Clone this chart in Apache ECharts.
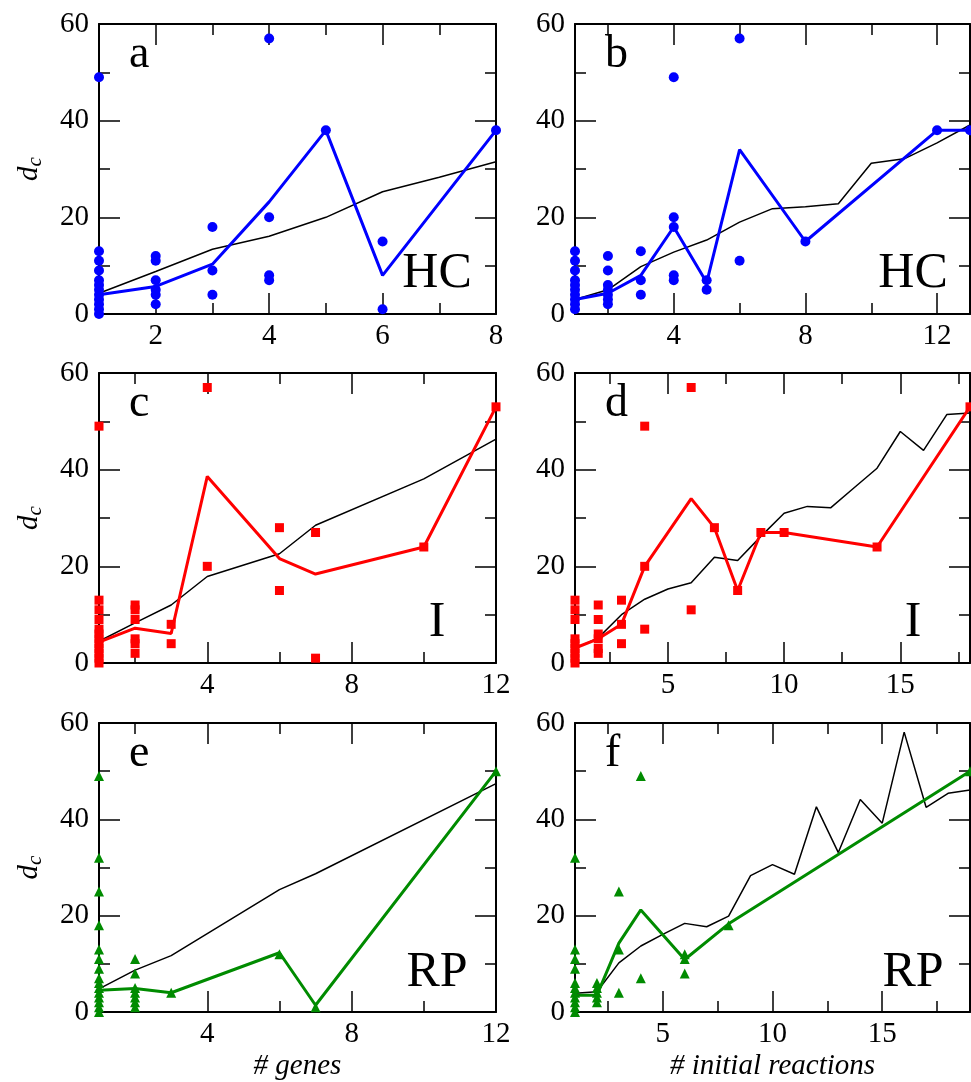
<!DOCTYPE html>
<html>
<head>
<meta charset="utf-8">
<script src="https://cdn.jsdelivr.net/npm/echarts@6/dist/echarts.min.js"></script>
<style>
  html, body { margin: 0; padding: 0; background: #fff; }
  #chart { width: 971px; height: 1082px; }
</style>
</head>
<body>
<div id="chart"></div>
<script>
// panel a : HC vs # genes
const aPtsX = [1, 2, 3, 4, 5, 6, 8];
const aPtsY = [[0, 1, 2, 3, 4, 5, 6, 7, 9, 11, 13, 49], [2, 4, 5, 7, 11, 12], [4, 9, 18], [7, 8, 20, 57], [38], [1, 15], [38]];
const aMeanX = [1, 2, 3, 4, 5, 6, 8];
const aMeanY = [4, 5.7, 10.3, 23.2, 38, 8, 38];
const aRefX = [1, 2, 3, 4, 5, 6, 7, 8];
const aRefY = [4.3, 8.8, 13.4, 16.1, 20, 25.3, 28.3, 31.5];

// panel b : HC vs # initial reactions
const bPtsX = [1, 2, 3, 4, 5, 6, 8, 12, 13];
const bPtsY = [[1, 2, 3, 4, 5, 6, 7, 9, 11, 13], [2, 3, 4, 5, 6, 9, 12], [4, 7, 13], [7, 8, 18, 20, 49], [5, 7], [11, 57], [15], [38], [38]];
const bMeanX = [1, 2, 3, 4, 5, 6, 8, 12, 13];
const bMeanY = [3, 4.3, 8, 18, 6.5, 34, 15, 38, 38];
const bRefX = [1, 2, 3, 4, 5, 6, 7, 8, 9, 10, 11, 12, 13];
const bRefY = [3, 5, 9.8, 12.8, 15.3, 19, 21.8, 22.2, 22.8, 31.2, 32.1, 35.4, 39.1];

// panel c : I vs # genes
const cPtsX = [1, 2, 3, 4, 6, 7, 10, 12];
const cPtsY = [[0, 1, 2, 3, 4, 5, 6, 7, 9, 11, 13, 49], [2, 4, 5, 9, 11, 12], [4, 8], [20, 57], [15, 28], [1, 27], [24], [53]];
const cMeanX = [1, 2, 3, 4, 6, 7, 10, 12];
const cMeanY = [4.3, 7.2, 6.1, 38.6, 21.6, 18.4, 24, 53];
const cRefX = [1, 2, 3, 4, 6, 7, 10, 12];
const cRefY = [4.5, 8.3, 12, 17.9, 22.6, 28.5, 38.1, 46.3];

// panel d : I vs # initial reactions
const dPtsX = [1, 2, 3, 4, 6, 7, 8, 9, 10, 14, 18];
const dPtsY = [[0, 1, 2, 3, 4, 5, 9, 11, 13], [2, 3, 5, 6, 9, 12], [4, 8, 13], [7, 20, 49], [11, 57], [28], [15], [27], [27], [24], [53]];
const dMeanX = [1, 2, 3, 4, 6, 7, 8, 9, 10, 14, 18];
const dMeanY = [3.1, 5, 8, 20, 34, 28, 15, 27, 27, 24, 53];
const dRefX = [1, 2, 3, 4, 5, 6, 7, 8, 9, 10, 11, 12, 13, 14, 15, 16, 17, 18];
const dRefY = [3, 5.2, 10, 13.2, 15.3, 16.6, 21.9, 21.2, 26.2, 31, 32.4, 32.1, 36.2, 40.3, 47.9, 44, 51.4, 51.7];

// panel e : RP vs # genes
const ePtsX = [1, 2, 3, 6, 7, 12];
const ePtsY = [[0, 1, 2, 3, 4, 5, 6, 7, 9, 11, 13, 18, 25, 32, 49], [1, 2, 3, 4, 5, 8, 11], [4], [12], [1], [50]];
const eMeanX = [1, 2, 3, 6, 7, 12];
const eMeanY = [4.5, 4.9, 4, 12.3, 1.4, 50];
const eRefX = [1, 2, 3, 6, 7, 12];
const eRefY = [4.8, 8.7, 11.7, 25.4, 28.7, 47.4];

// panel f : RP vs # initial reactions
const fPtsX = [1, 2, 3, 4, 6, 8, 19];
const fPtsY = [[0, 1, 2, 3, 4, 5, 6, 9, 11, 13, 32], [2, 3, 4, 5, 6], [4, 13, 25], [7, 49], [8, 11, 12], [18], [50]];
const fMeanX = [1, 2, 3, 4, 6, 8, 19];
const fMeanY = [3.5, 3.5, 14.3, 21.2, 10.9, 18.3, 50];
const fRefX = [1, 2, 3, 4, 5, 6, 7, 8, 9, 10, 11, 12, 13, 14, 15, 16, 17, 18, 19];
const fRefY = [3.9, 4.2, 10.2, 13.7, 16.1, 18.4, 17.7, 19.9, 28.3, 30.6, 28.6, 42.6, 33.1, 44.1, 39.2, 58.1, 42.5, 45.4, 46.1];

// tick values
const genesMajor = [4, 8, 12];
const genesMinor = [2, 6, 10];
const reacMajor = [5, 10, 15];
const reacMinor = [2.5, 7.5, 12.5, 17.5];

const SERIF = '"Liberation Serif", "Times New Roman", serif';
const BLUE = '#0000ff', RED = '#ff0000', GREEN = '#008b00';

const panels = [
  { letter: 'a', tag: 'HC', color: BLUE, symbol: 'circle', size: 10, ptsX: aPtsX, ptsY: aPtsY, meanX: aMeanX, meanY: aMeanY, refX: aRefX, refY: aRefY,
    xMin: 1, xMax: 8, major: [2, 4, 6, 8], minor: [3, 5, 7], left: 99, top: 24, width: 397, yName: true },
  { letter: 'b', tag: 'HC', color: BLUE, symbol: 'circle', size: 10, ptsX: bPtsX, ptsY: bPtsY, meanX: bMeanX, meanY: bMeanY, refX: bRefX, refY: bRefY,
    xMin: 1, xMax: 13, major: genesMajor, minor: genesMinor, left: 575, top: 24, width: 395 },
  { letter: 'c', tag: 'I', color: RED, symbol: 'rect', size: 9, ptsX: cPtsX, ptsY: cPtsY, meanX: cMeanX, meanY: cMeanY, refX: cRefX, refY: cRefY,
    xMin: 1, xMax: 12, major: genesMajor, minor: genesMinor, left: 99, top: 373, width: 397, yName: true },
  { letter: 'd', tag: 'I', color: RED, symbol: 'rect', size: 9, ptsX: dPtsX, ptsY: dPtsY, meanX: dMeanX, meanY: dMeanY, refX: dRefX, refY: dRefY,
    xMin: 1, xMax: 18, major: reacMajor, minor: reacMinor, left: 575, top: 373, width: 395 },
  { letter: 'e', tag: 'RP', color: GREEN, symbol: 'triangle', size: 10, ptsX: ePtsX, ptsY: ePtsY, meanX: eMeanX, meanY: eMeanY, refX: eRefX, refY: eRefY,
    xMin: 1, xMax: 12, major: genesMajor, minor: genesMinor, left: 99, top: 723, width: 397, yName: true, xName: '# genes' },
  { letter: 'f', tag: 'RP', color: GREEN, symbol: 'triangle', size: 10, ptsX: fPtsX, ptsY: fPtsY, meanX: fMeanX, meanY: fMeanY, refX: fRefX, refY: fRefY,
    xMin: 1, xMax: 19, major: reacMajor, minor: reacMinor, left: 575, top: 723, width: 395, xName: '# initial reactions' }
];

const H = 290;
const tickStyle = { color: '#000', width: 1.5 };
const lineStyle = { color: '#000', width: 2 };
const labelFont = { fontFamily: SERIF, fontSize: 29, color: '#000' };

const option = { animation: false, backgroundColor: '#fff', grid: [], xAxis: [], yAxis: [], series: [], graphic: [] };

panels.forEach((p, i) => {
  option.grid.push({ left: p.left, top: p.top, width: p.width, height: H, containLabel: false });

  const xBase = { gridIndex: i, type: 'value', min: p.xMin, max: p.xMax, splitLine: { show: false } };
  ['bottom', 'top'].forEach(pos => {
    const main = Object.assign({}, xBase, {
      position: pos,
      axisLine: { show: true, onZero: false, lineStyle: lineStyle },
      axisTick: { show: true, inside: true, length: 21, customValues: p.major, lineStyle: tickStyle },
      axisLabel: pos === 'bottom' ? Object.assign({ customValues: p.major, margin: 8 }, labelFont) : { show: false }
    });
    if (pos === 'bottom' && p.xName) {
      Object.assign(main, {
        name: p.xName, nameLocation: 'middle', nameGap: 40,
        nameTextStyle: { fontFamily: SERIF, fontSize: 29, fontStyle: 'italic', color: '#000' }
      });
    }
    option.xAxis.push(main);
    option.xAxis.push(Object.assign({}, xBase, {
      position: pos,
      axisLine: { show: false, onZero: false },
      axisTick: { show: true, inside: true, length: 11, customValues: p.minor, lineStyle: tickStyle },
      axisLabel: { show: false }
    }));
  });

  ['left', 'right'].forEach(pos => {
    const y = {
      gridIndex: i, type: 'value', position: pos, min: 0, max: 60, interval: 20,
      splitLine: { show: false },
      axisLine: { show: true, onZero: false, lineStyle: lineStyle },
      axisTick: { show: true, inside: true, length: 21, lineStyle: tickStyle },
      minorTick: { show: true, splitNumber: 2, length: 11, lineStyle: tickStyle },
      axisLabel: pos === 'left' ? Object.assign({ margin: 10 }, labelFont) : { show: false }
    };
    if (pos === 'left' && p.yName) {
      Object.assign(y, {
        name: '{d|d}{c|c}', nameLocation: 'middle', nameGap: 53, nameRotate: 90,
        nameTextStyle: {
          rich: {
            d: { fontFamily: SERIF, fontSize: 29, fontStyle: 'italic', color: '#000', lineHeight: 34 },
            c: { fontFamily: SERIF, fontSize: 21, fontStyle: 'italic', color: '#000', verticalAlign: 'bottom', lineHeight: 34 }
          }
        }
      });
    }
    option.yAxis.push(y);
  });

  const xi = i * 4, yi = i * 2;

  option.series.push({
    type: 'line', xAxisIndex: xi, yAxisIndex: yi, clip: false, silent: true,
    showSymbol: false, lineStyle: { color: '#000', width: 1.5 }, z: 2,
    data: p.refX.map((x, k) => [x, p.refY[k]])
  });
  option.series.push({
    type: 'line', xAxisIndex: xi, yAxisIndex: yi, clip: false, silent: true,
    showSymbol: false, lineStyle: { color: p.color, width: 3 }, z: 3,
    data: p.meanX.map((x, k) => [x, p.meanY[k]])
  });
  const pts = [];
  p.ptsX.forEach((x, k) => p.ptsY[k].forEach(v => pts.push([x, v])));
  option.series.push({
    type: 'scatter', xAxisIndex: xi, yAxisIndex: yi, clip: false, silent: true,
    symbol: p.symbol, symbolSize: p.size, itemStyle: { color: p.color, opacity: 1 }, z: 4,
    data: pts
  });

  option.graphic.push({
    type: 'text', x: p.left + 30, y: p.top + 31, z: 10,
    style: { text: p.letter, font: '46px ' + SERIF, fill: '#000', align: 'left', verticalAlign: 'middle', textAlign: 'left', textVerticalAlign: 'middle' }
  });
  option.graphic.push({
    type: 'text', x: p.left + 338, y: p.top + 250, z: 10,
    style: { text: p.tag, font: '50px ' + SERIF, fill: '#000', align: 'center', verticalAlign: 'middle', textAlign: 'center', textVerticalAlign: 'middle' }
  });
});

const chart = echarts.init(document.getElementById('chart'), null, { renderer: 'canvas' });
chart.setOption(option);
</script>
</body>
</html>
